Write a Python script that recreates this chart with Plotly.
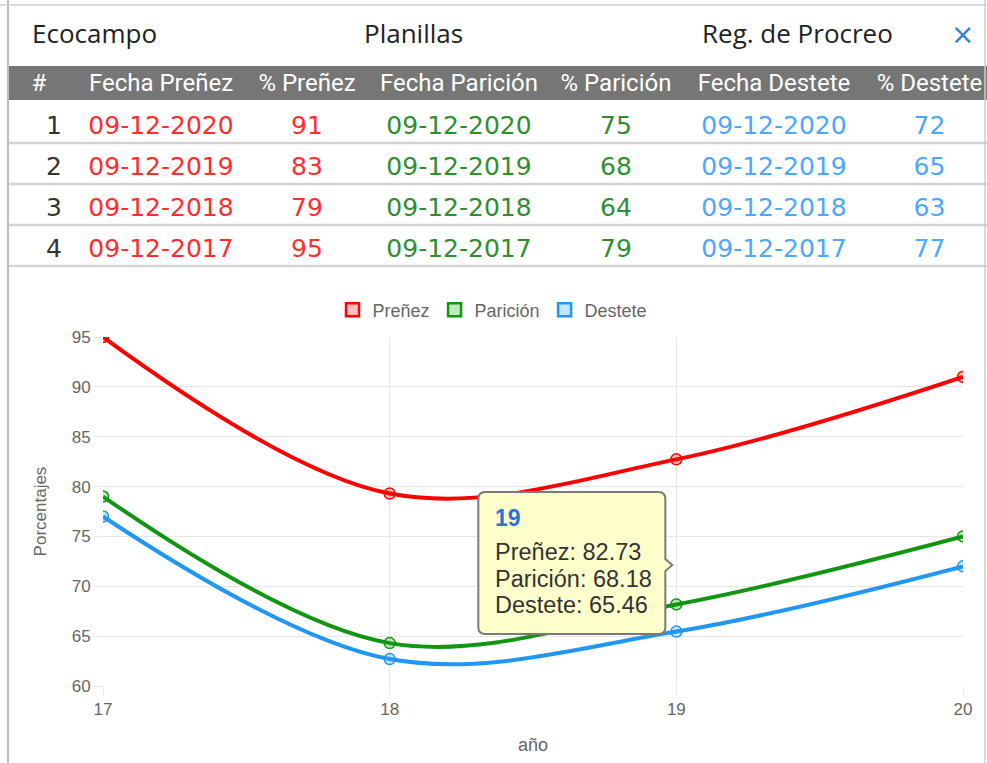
import plotly.graph_objects as go

W, H = 987, 763

# ---------------- data ----------------
x_years = [17, 18, 19, 20]
prenez = [95.0, 79.3, 82.73, 91.0]
paricion = [79.0, 64.3, 68.18, 75.0]
destete = [77.0, 62.7, 65.46, 72.0]
series_names = ["Preñez", "Parición", "Destete"]
tooltip_index = 2

nav_labels = ["Ecocampo", "Planillas", "Reg. de Procreo"]

table_headers = ["#", "Fecha Preñez", "% Preñez", "Fecha Parición",
                 "% Parición", "Fecha Destete", "% Destete"]
row_numbers = ["1", "2", "3", "4"]
fecha_prenez = ["09-12-2020", "09-12-2019", "09-12-2018", "09-12-2017"]
pct_prenez = [91, 83, 79, 95]
fecha_paricion = ["09-12-2020", "09-12-2019", "09-12-2018", "09-12-2017"]
pct_paricion = [75, 68, 64, 79]
fecha_destete = ["09-12-2020", "09-12-2019", "09-12-2018", "09-12-2017"]
pct_destete = [72, 65, 63, 77]

# ---------------- styles ----------------
line_colors = ["#ff0000", "#109610", "#2196f3"]
fill_colors = ["rgba(255,0,0,0.25)", "rgba(16,150,16,0.25)", "rgba(33,150,243,0.25)"]
tbl_red, tbl_green, tbl_blue = "#ff2d2d", "#2f8f2f", "#4da6ff"
chart_font = "Liberation Sans, Arial, sans-serif"
grid_col = "#e6e6e6"
clear = "rgba(0,0,0,0)"


def py(y_px):
    """pixel row (from top) -> paper fraction"""
    return (H - y_px) / H


fig = go.Figure()

# lines
for name, vals, lc, fc in zip(series_names, [prenez, paricion, destete], line_colors, fill_colors):
    fig.add_trace(go.Scatter(
        x=x_years, y=vals, mode="lines+markers", name=name, showlegend=False,
        line=dict(shape="spline", smoothing=1.0, width=4, color=lc),
        marker=dict(size=11, color=fc, line=dict(color=lc, width=1.5)),
        hoverinfo="skip"))
# legend entries
for name, lc, fc in zip(series_names, line_colors, fill_colors):
    fig.add_trace(go.Scatter(
        x=[None], y=[None], mode="markers", name=name,
        marker=dict(symbol="square", size=13, color=fc, line=dict(color=lc, width=2.5))))

# table (transparent; header band and row rules drawn as shapes)
TABLE_TOP, HEADER_H, ROW_H = 65, 42, 41
BAND_TOP, BAND_BOTTOM = 66, 100
RULES_START, RULE_STEP = 143, 41
table_bottom = TABLE_TOP + HEADER_H + ROW_H * len(row_numbers)
fig.add_trace(go.Table(
    domain=dict(x=[8 / W, 1], y=[py(table_bottom), py(TABLE_TOP)]),
    columnwidth=[62, 182, 110, 194, 120, 196, 115],
    header=dict(values=[h.replace(" ", "\u00a0") for h in table_headers], fill_color=clear,
                line=dict(color=clear, width=0),
                font=dict(color="white", size=24, family="Roboto, sans-serif"),
                align="center", height=HEADER_H),
    cells=dict(values=[row_numbers, fecha_prenez, pct_prenez, fecha_paricion,
                       pct_paricion, fecha_destete, pct_destete],
               fill_color=clear, line=dict(color=clear, width=0),
               font=dict(color=["#333333", tbl_red, tbl_red, tbl_green, tbl_green, tbl_blue, tbl_blue],
                         size=25, family="DejaVu Sans, Verdana, sans-serif"),
               align=["right", "center", "center", "center", "center", "center", "center"],
               height=ROW_H)))

shapes = []
# header band
shapes.append(dict(type="rect", xref="paper", yref="paper", x0=8 / W, x1=1,
                   y0=py(BAND_BOTTOM), y1=py(BAND_TOP), fillcolor="#767676",
                   line=dict(width=0), layer="below"))
# row separators
for k in range(len(row_numbers)):
    yy = py(RULES_START + RULE_STEP * k)
    shapes.append(dict(type="line", xref="paper", yref="paper", x0=8 / W, x1=1, y0=yy, y1=yy,
                       line=dict(color="#d4d4d4", width=2.5), layer="below"))
# frame
shapes.append(dict(type="line", xref="paper", yref="paper", x0=8 / W, x1=8 / W, y0=0, y1=1,
                   line=dict(color="#bdbdbd", width=2)))
shapes.append(dict(type="line", xref="paper", yref="paper", x0=985 / W, x1=985 / W, y0=0, y1=1,
                   line=dict(color="#cfcfcf", width=1.5)))
shapes.append(dict(type="line", xref="paper", yref="paper", x0=0, x1=1, y0=py(5), y1=py(5),
                   line=dict(color="#cfcfcf", width=1.5)))

# tooltip box (pixel offsets relative to the hovered point)
tip_x = x_years[tooltip_index]
tip_vals = [prenez[tooltip_index], paricion[tooltip_index], destete[tooltip_index]]
tip_y = sum(tip_vals) / len(tip_vals)
L, R, T, B, r = -198, -11, 73, -69, 7
path = (f"M {L + r},{T} L {R - r},{T} Q {R},{T} {R},{T - r} L {R},6 L -4,0 L {R},-6 "
        f"L {R},{B + r} Q {R},{B} {R - r},{B} L {L + r},{B} Q {L},{B} {L},{B + r} "
        f"L {L},{T - r} Q {L},{T} {L + r},{T} Z")
shapes.append(dict(type="path", xref="x", yref="y", xsizemode="pixel", ysizemode="pixel",
                   xanchor=tip_x, yanchor=tip_y, path=path, fillcolor="#ffffcc",
                   line=dict(color="#7a7a7a", width=2), layer="above"))

annotations = []
annotations.append(dict(xref="x", yref="y", x=tip_x, y=tip_y, xshift=-183, yshift=47,
                        text=f"<b>{tip_x}</b>", showarrow=False, xanchor="left", yanchor="middle",
                        font=dict(size=23, color="#2f6fe0", family=chart_font)))
for i, (name, v) in enumerate(zip(series_names, tip_vals)):
    annotations.append(dict(xref="x", yref="y", x=tip_x, y=tip_y, xshift=-183, yshift=13 - 26.5 * i,
                            text=f"{name}: {v:.2f}", showarrow=False, xanchor="left", yanchor="middle",
                            font=dict(size=23.5, color="#333333", family=chart_font)))

# nav bar text
nav_font = dict(size=26, color="#222222", family="Open Sans, DejaVu Sans, sans-serif")
annotations.append(dict(xref="paper", yref="paper", x=30 / W, y=py(33), text=nav_labels[0],
                        showarrow=False, xanchor="left", yanchor="middle", font=nav_font))
annotations.append(dict(xref="paper", yref="paper", x=413 / W, y=py(33), text=nav_labels[1],
                        showarrow=False, xanchor="center", yanchor="middle", font=nav_font))
annotations.append(dict(xref="paper", yref="paper", x=797 / W, y=py(33), text=nav_labels[2],
                        showarrow=False, xanchor="center", yanchor="middle", font=nav_font))
annotations.append(dict(xref="paper", yref="paper", x=962 / W, y=py(34), text="×",
                        showarrow=False, xanchor="center", yanchor="middle",
                        font=dict(size=28, color="#3b7ddd", family="DejaVu Sans, sans-serif")))

fig.update_layout(
    width=W, height=H, margin=dict(l=0, r=0, t=0, b=0),
    paper_bgcolor="white", plot_bgcolor="white",
    font=dict(family=chart_font, color="#666666", size=17),
    shapes=shapes, annotations=annotations,
    legend=dict(orientation="h", x=0.499, xanchor="center", y=py(310), yanchor="middle",
                font=dict(size=18, color="#666666", family=chart_font), itemwidth=30,
                bgcolor="rgba(0,0,0,0)"),
    xaxis=dict(domain=[103 / W, 963 / W], range=[17, 20], tickvals=x_years,
               ticktext=[str(v) for v in x_years], showgrid=True, gridcolor=grid_col,
               zeroline=False, ticks="outside", ticklen=8, tickcolor=grid_col,
               showline=False, automargin=False, tickfont=dict(size=17),
               title=dict(text="año", standoff=19, font=dict(size=18, color="#666666"))),
    yaxis=dict(domain=[py(686), py(337)], range=[60, 95], dtick=5,
               showgrid=True, gridcolor=grid_col, zeroline=False, ticks="outside",
               ticklen=8, tickcolor=grid_col, showline=False, automargin=False,
               tickfont=dict(size=17),
               title=dict(text="Porcentajes", standoff=20, font=dict(size=17, color="#666666"))),
)

fig.write_html("out.html", config={"displayModeBar": False},
               post_script="document.body.style.margin='0px';")
